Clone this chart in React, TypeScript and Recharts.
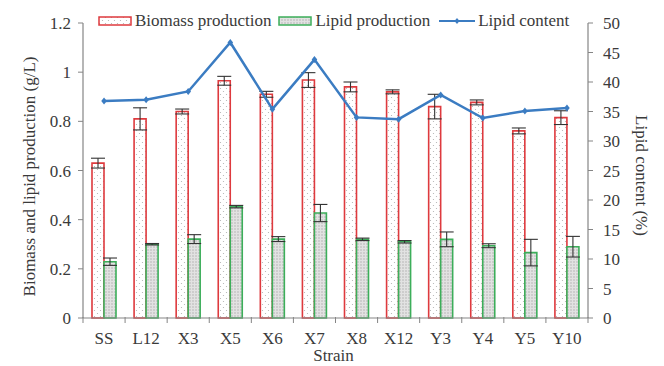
import { ComposedChart, Bar, Line, XAxis, YAxis, ErrorBar } from "recharts";

const strains = ["SS", "L12", "X3", "X5", "X6", "X7", "X8", "X12", "Y3", "Y4", "Y5", "Y10"];
const biomass = [0.63, 0.81, 0.84, 0.965, 0.91, 0.968, 0.94, 0.92, 0.86, 0.877, 0.761, 0.815];
const biomassErr = [0.02, 0.045, 0.01, 0.018, 0.012, 0.03, 0.02, 0.008, 0.05, 0.01, 0.012, 0.028];
const lipid = [0.229, 0.3, 0.321, 0.453, 0.321, 0.427, 0.32, 0.31, 0.32, 0.294, 0.266, 0.29];
const lipidErr = [0.015, 0.003, 0.018, 0.005, 0.01, 0.035, 0.005, 0.005, 0.03, 0.008, 0.054, 0.042];
const lipidContent = [36.8, 37.0, 38.4, 46.7, 35.4, 43.8, 34.0, 33.7, 37.8, 33.9, 35.1, 35.6];

const leftTicks = [0, 0.2, 0.4, 0.6, 0.8, 1, 1.2];
const rightTicks = [0, 5, 10, 15, 20, 25, 30, 35, 40, 45, 50];

const RED = "#DE3A3E";
const GREEN = "#3CAE5A";
const BLUE = "#3B7CC2";
const AXIS = "#858585";
const TEXT = "#3a3a3a";
const FONT = "'Liberation Serif', 'Times New Roman', serif";

const X_TICK_SIZE = 6;
const X_TICK_MARGIN = 8;

const rows = strains.map((strain, i) => ({
  strain,
  biomass: biomass[i],
  biomassErr: biomassErr[i],
  lipid: lipid[i],
  lipidErr: lipidErr[i],
  content: lipidContent[i],
}));

const tickStyle = { fontSize: 17, fill: TEXT, fontFamily: FONT };

const Diamond = (props: any) => {
  const { cx, cy } = props;
  if (cx == null || cy == null) return null;
  return <path d={`M${cx} ${cy - 3.5} L${cx + 2.8} ${cy} L${cx} ${cy + 3.5} L${cx - 2.8} ${cy} Z`} fill={BLUE} />;
};

// category label plus tick marks on the band boundaries (Excel style)
const StrainTick = (props: any) => {
  const { x, y, payload, width, visibleTicksCount, index } = props;
  const step = width / (visibleTicksCount || strains.length);
  const axisY = y - X_TICK_SIZE - X_TICK_MARGIN;
  const last = index === (visibleTicksCount || strains.length) - 1;
  return (
    <g>
      <line x1={x - step / 2} x2={x - step / 2} y1={axisY - 1} y2={axisY + 5} stroke={AXIS} />
      {last && <line x1={x + step / 2} x2={x + step / 2} y1={axisY - 1} y2={axisY + 5} stroke={AXIS} />}
      <text x={x} y={y} dy="0.71em" textAnchor="middle" style={tickStyle}>
        {payload.value}
      </text>
    </g>
  );
};

const LeftTitle = ({ viewBox }: any) => (
  <text
    transform={`translate(${viewBox.x + 35}, ${viewBox.y + viewBox.height / 2 + 6}) rotate(-90)`}
    textAnchor="middle"
    style={tickStyle}
  >
    Biomass and lipid production (g/L)
  </text>
);

const RightTitle = ({ viewBox }: any) => (
  <text
    transform={`translate(${viewBox.x + 48}, ${viewBox.y + viewBox.height / 2 + 5}) rotate(90)`}
    textAnchor="middle"
    style={tickStyle}
  >
    Lipid content  (%)
  </text>
);

const BottomTitle = ({ viewBox }: any) => (
  <text x={viewBox.x + viewBox.width / 2 - 2} y={viewBox.y + 43} textAnchor="middle" style={tickStyle}>
    Strain
  </text>
);

function LegendBox({ fill, stroke }: { fill: string; stroke: string }) {
  return (
    <svg width={34} height={10} style={{ display: "block" }}>
      <rect x={1} y={1} width={32} height={8} fill={fill} stroke={stroke} strokeWidth={1.5} />
    </svg>
  );
}

function ChartLegend() {
  const item = { display: "flex", alignItems: "center", gap: 3 } as const;
  return (
    <div
      style={{
        position: "absolute",
        left: 98,
        top: 11,
        display: "flex",
        alignItems: "center",
        fontFamily: FONT,
        fontSize: 17,
        color: TEXT,
        whiteSpace: "nowrap",
      }}
    >
      <div style={{ ...item, marginRight: 7 }}>
        <LegendBox fill="url(#dotRed)" stroke={RED} />
        <span>Biomass production</span>
      </div>
      <div style={{ ...item, marginRight: 9 }}>
        <LegendBox fill="url(#dotGreen)" stroke={GREEN} />
        <span>Lipid production</span>
      </div>
      <div style={item}>
        <svg width={36} height={10} style={{ display: "block" }}>
          <line x1={0} y1={5} x2={36} y2={5} stroke={BLUE} strokeWidth={2} />
          <path d="M18 2 L20.5 5 L18 8 L15.5 5 Z" fill={BLUE} />
        </svg>
        <span>Lipid content</span>
      </div>
    </div>
  );
}

export default function App() {
  return (
    <div style={{ position: "relative", width: 664, height: 366, background: "#fff" }}>
      <style>{`body { margin: 0; }`}</style>
      <ComposedChart
        width={664}
        height={366}
        data={rows}
        margin={{ top: 23, right: 0, bottom: 0, left: 0 }}
        barGap={0}
      >
        <defs>
          <pattern id="dotRed" width={6} height={6} patternUnits="userSpaceOnUse">
            <rect width={6} height={6} fill="#fff" />
            <circle cx={1.5} cy={1.5} r={0.6} fill="#b0b0b0" />
            <circle cx={4.5} cy={4.5} r={0.6} fill="#b0b0b0" />
          </pattern>
          <pattern id="dotGreen" width={3} height={3} patternUnits="userSpaceOnUse">
            <rect width={3} height={3} fill="#e2e2e2" />
            <circle cx={1} cy={1} r={0.7} fill="#a8a8a8" />
          </pattern>
        </defs>
        <XAxis
          dataKey="strain"
          height={48}
          tick={<StrainTick />}
          tickLine={false}
          tickSize={X_TICK_SIZE}
          tickMargin={X_TICK_MARGIN}
          axisLine={{ stroke: AXIS, strokeWidth: 1.2 }}
          interval={0}
          label={<BottomTitle />}
        />
        <YAxis
          yAxisId="left"
          width={83}
          domain={[0, 1.2]}
          ticks={leftTicks}
          tick={tickStyle}
          tickSize={5}
          tickMargin={7}
          tickLine={{ stroke: AXIS }}
          axisLine={{ stroke: AXIS, strokeWidth: 1.2 }}
          label={<LeftTitle />}
        />
        <YAxis
          yAxisId="right"
          orientation="right"
          width={76}
          domain={[0, 50]}
          ticks={rightTicks}
          tick={tickStyle}
          tickSize={5}
          tickMargin={10}
          tickLine={{ stroke: AXIS }}
          axisLine={{ stroke: AXIS, strokeWidth: 1.2 }}
          label={<RightTitle />}
        />
        <Bar
          yAxisId="left"
          dataKey="biomass"
          barSize={12}
          fill="url(#dotRed)"
          stroke={RED}
          strokeWidth={1.6}
          isAnimationActive={false}
        >
          <ErrorBar dataKey="biomassErr" width={7} stroke="#333" strokeWidth={1.1} />
        </Bar>
        <Bar
          yAxisId="left"
          dataKey="lipid"
          barSize={12}
          fill="url(#dotGreen)"
          stroke={GREEN}
          strokeWidth={1.6}
          isAnimationActive={false}
        >
          <ErrorBar dataKey="lipidErr" width={7} stroke="#333" strokeWidth={1.1} />
        </Bar>
        <Line
          yAxisId="right"
          dataKey="content"
          stroke={BLUE}
          strokeWidth={2.5}
          dot={<Diamond />}
          activeDot={false}
          isAnimationActive={false}
        />
      </ComposedChart>
      <ChartLegend />
    </div>
  );
}
